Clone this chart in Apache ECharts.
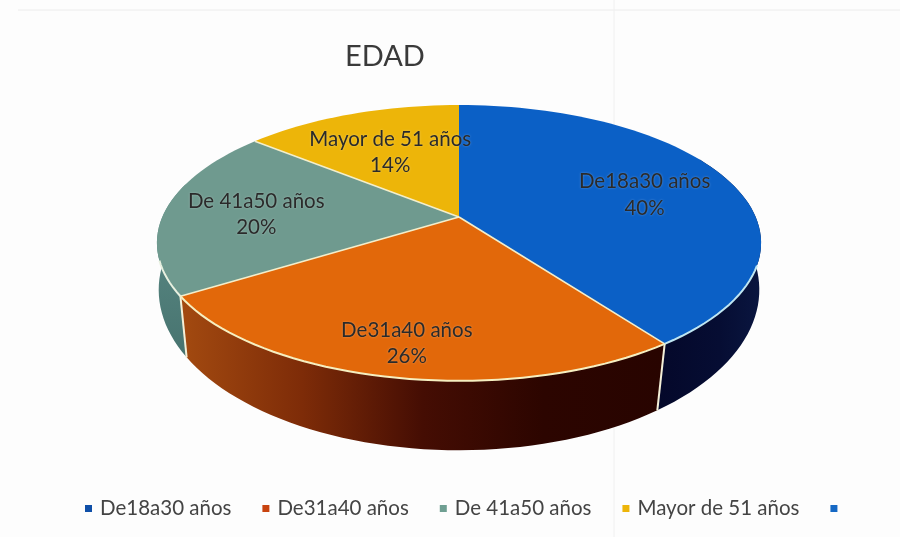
<!DOCTYPE html>
<html>
<head>
<meta charset="utf-8">
<style>html,body{margin:0;padding:0;background:#fdfdfd}#c{width:900px;height:537px}</style>
<script src="https://cdn.jsdelivr.net/npm/echarts@6/dist/echarts.min.js"></script>
</head>
<body>
<div id="c"></div>
<script>
const titleText = 'EDAD';
const categories = ['De18a30 años', 'De31a40 años', 'De 41a50 años', 'Mayor de 51 años', ' '];
const values = [40, 26, 20, 14, 0];
const percentLabels = ['40%', '26%', '20%', '14%', ''];
const topColors = ['#0b60c6', '#e2680a', '#6f9a8f', '#edb509', '#1568c4'];
const legendColors = ['#0f4fa8', '#c8430f', '#6f9f92', '#edb509', '#1568c4'];
const labelRadius = [0.68, 0.8, 0.68, 0.6, 0];
const labelShiftX = [1, 0, -3, 0, 0];
const labelShiftY = [5, 4, 3, 1, 0];

const total = values.reduce((a, b) => a + b, 0);
const upper = {cx: 459, cy: 217, a: 296.7, b: 133, k: 0.188};
const lower = {cx: 459, cy: 266, a: 297, b: 157, k: 0.148};
function project(d, deg, r) {
  const t = deg * Math.PI / 180, u = r * Math.sin(t), v = -r * Math.cos(t), w = 1 - d.k * v;
  return [d.cx + d.a * u / w, d.cy + d.b * v / w];
}
function arc(d, from, to) {
  const pts = [];
  const n = Math.max(2, Math.ceil(Math.abs(to - from) / 2));
  for (let i = 0; i <= n; i++) pts.push(project(d, from + (to - from) * i / n, 1));
  return pts;
}
const G = echarts.graphic.LinearGradient;
const wallFills = [
  new G(0, 0, 1, 0, [{offset: 0, color: '#04082a'}, {offset: 0.6, color: '#060d33'}, {offset: 1, color: '#0a1640'}]),
  new G(0, 0, 1, 0, [{offset: 0, color: '#a34a10'}, {offset: 0.25, color: '#7e2c08'}, {offset: 0.5, color: '#450d03'}, {offset: 0.75, color: '#2c0500'}, {offset: 1, color: '#280400'}]),
  new G(0, 0, 0, 1, [{offset: 0, color: '#5f8f8a'}, {offset: 1, color: '#47736f'}]),
  '#9a7a08', '#000'
];
const rimColors = ['#bfe6f2', '#f6efc0', '#e8f0e0', '#f6efc0', '#fff'];

let cum = 0;
const spans = values.map(v => { const s = cum / total * 360; cum += v; return [s, cum / total * 360]; });
const wallFrom = 62, wallTo = 285, rimFrom = 110, rimTo = 252;

function renderSlice(idx) {
  return function () {
    if (!values[idx]) return {type: 'group', children: []};
    const [s, e] = spans[idx];
    const children = [];
    const ws = Math.max(s, wallFrom), we = Math.min(e, wallTo);
    if (we > ws) {
      children.push({type: 'polygon', z2: 1, shape: {points: arc(upper, ws, we).concat(arc(lower, ws, we).reverse())}, style: {fill: wallFills[idx]}});
      if (e <= wallTo && e < 360) {
        const a = project(upper, e, 1), b = project(lower, e, 1);
        children.push({type: 'line', z2: 3, shape: {x1: a[0], y1: a[1], x2: b[0], y2: b[1]}, style: {stroke: '#f4f0d8', lineWidth: 2}});
      }
    }
    const rs = Math.max(s, rimFrom), re = Math.min(e, rimTo);
    if (re > rs) {
      children.push({type: 'polyline', z2: 12, shape: {points: arc(upper, rs, re)}, style: {fill: null, stroke: rimColors[idx], lineWidth: 2}});
    }
    const top = [[upper.cx, upper.cy]].concat(arc(upper, s, e));
    children.push({type: 'polygon', z2: 10, shape: {points: top}, style: {fill: topColors[idx]}});
    if (e < 360) {
      const p = project(upper, e, 1);
      children.push({type: 'line', z2: 11, shape: {x1: upper.cx, y1: upper.cy, x2: p[0], y2: p[1]}, style: {stroke: '#f3eecb', lineWidth: 1.6}});
    }
    const lp = project(upper, (s + e) / 2, labelRadius[idx]);
    children.push({type: 'text', z2: 20, x: lp[0] + labelShiftX[idx], y: lp[1] + labelShiftY[idx], style: {
      text: categories[idx] + '\n' + percentLabels[idx], fill: '#2a2a2a', align: 'center', verticalAlign: 'middle',
      font: '20.5px Lato', lineHeight: 26.5,
      textShadowColor: 'rgba(255,255,255,0.35)', textShadowBlur: 2
    }});
    return {type: 'group', children};
  };
}

const chart = echarts.init(document.getElementById('c'), null, {renderer: 'canvas'});
chart.setOption({
  animation: false,
  backgroundColor: '#fdfdfd',
  title: {text: titleText, left: 340, top: 37, textStyle: {fontFamily: 'Lato', fontSize: 29, fontWeight: 'normal', color: '#3a3a3a'}},
  legend: {
    data: categories, left: 80, top: 493, icon: 'rect', itemWidth: 7, itemHeight: 7, itemGap: 31,
    textStyle: {fontFamily: 'Lato', fontSize: 20.5, color: '#444', padding: [0, 0, 0, 3]}
  },
  graphic: [
    {type: 'line', silent: true, z: -1, shape: {x1: 18, y1: 10, x2: 900, y2: 10}, style: {stroke: '#ececec', lineWidth: 1}},
    {type: 'line', silent: true, z: -1, shape: {x1: 614, y1: 0, x2: 614, y2: 537}, style: {stroke: '#f0f0f0', lineWidth: 1}}
  ],
  series: categories.map((name, i) => ({
    type: 'custom', name, coordinateSystem: 'none', silent: true,
    itemStyle: {color: legendColors[i]},
    data: [[values[i]]],
    renderItem: renderSlice(i)
  }))
});
</script>
</body>
</html>
